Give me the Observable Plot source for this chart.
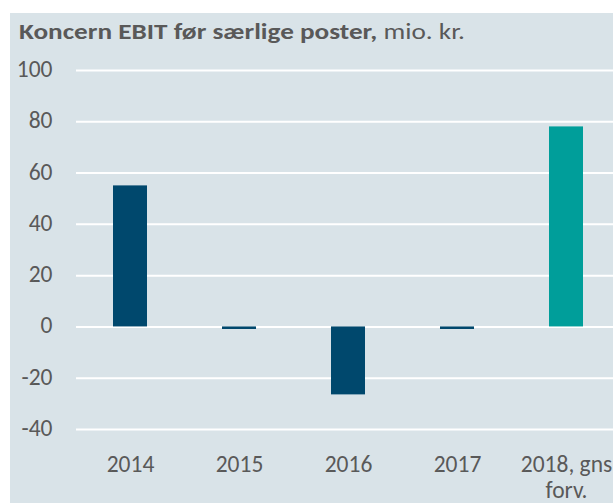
<!DOCTYPE html>
<html>
<head>
<meta charset="utf-8">
<script src="https://cdn.jsdelivr.net/npm/d3@7"></script>
<script src="https://cdn.jsdelivr.net/npm/@observablehq/plot@0.6"></script>
<style>
  html, body { margin: 0; padding: 0; background: #ffffff; }
  #panel { position: absolute; left: 10px; top: 13px; width: 603px; height: 490px; background: #d9e3e8; overflow: hidden; font-family: Carlito, Lato, "Open Sans", sans-serif; color: #595959; }
  #title { position: absolute; left: 9px; top: 8px; font-family: Carlito, Lato, sans-serif; font-size: 22.5px; line-height: 22.5px; white-space: nowrap; transform: scaleX(1.21); transform-origin: 0 0; }
  #title b { font-weight: 700; }
  #chart { position: absolute; left: 0; top: 42px; }
</style>
</head>
<body>
<div id="panel">
  <div id="title"><b>Koncern EBIT før særlige poster,</b> mio. kr.</div>
  <div id="chart"></div>
</div>
<script>
const categories = ["2014", "2015", "2016", "2017", "2018, gns forv."];
const values = [55, -1, -26.5, -1, 78];
const barColors = ["#00486d", "#00486d", "#00486d", "#00486d", "#009e9a"];
const yTicks = [-40, -20, 0, 20, 40, 60, 80, 100];

const data = categories.map((c, i) => ({category: c, value: values[i], color: barColors[i]}));

const plot = Plot.plot({
  width: 603,
  height: 448,
  marginLeft: 66,
  marginRight: 0,
  marginTop: 15,
  marginBottom: 74,
  style: {background: "transparent", fontFamily: "Carlito, Lato, 'Open Sans', sans-serif", fontSize: "23.5px", color: "#595959", overflow: "visible"},
  x: {domain: categories, range: [65.5, 610.5], paddingInner: 0.688, paddingOuter: 0.344, axis: null},
  y: {domain: [-40, 100], range: [374, 15], axis: null},
  marks: [
    Plot.ruleY(yTicks, {stroke: "#ffffff", strokeWidth: 2}),
    Plot.barY(data, {x: "category", y: "value", fill: "color"}),
    Plot.text(yTicks, {y: d => d, text: d => String(d), frameAnchor: "left", textAnchor: "end", dx: -24, dy: -1, fill: "#595959", fontSize: 23.5}),
    Plot.text(categories, {x: d => d, text: d => d.replace(" forv.", "\nforv."), frameAnchor: "bottom", lineAnchor: "top", dy: 24, lineHeight: 1.1, fill: "#595959", fontSize: 23.5})
  ]
});
document.getElementById("chart").appendChild(plot);
</script>
</body>
</html>
